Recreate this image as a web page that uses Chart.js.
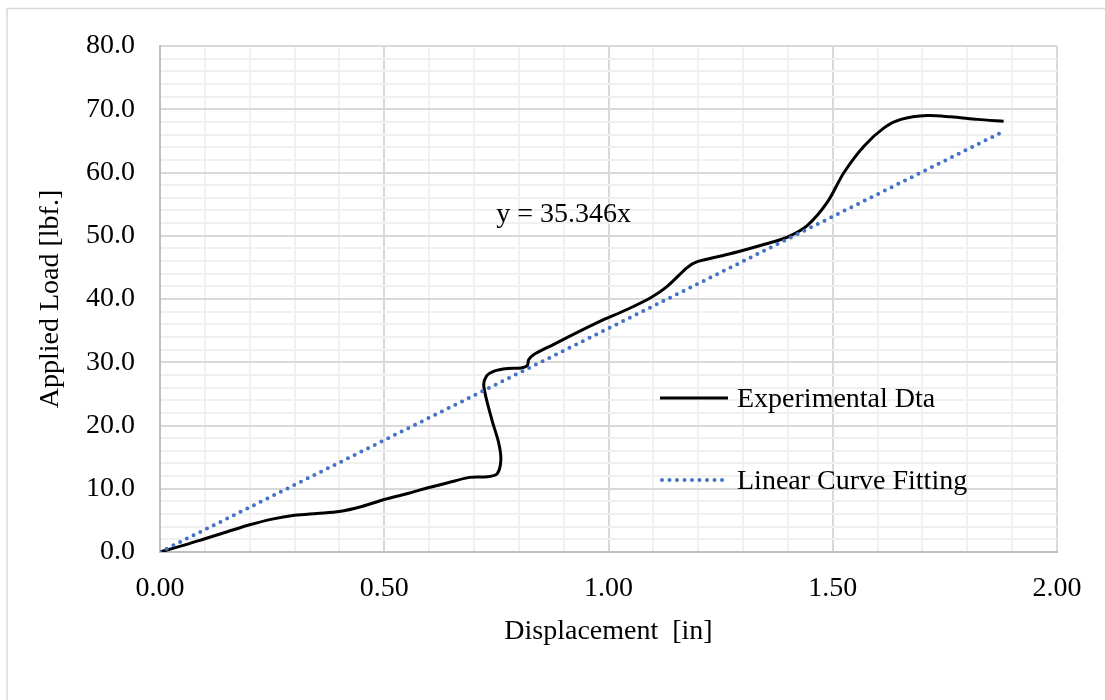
<!DOCTYPE html>
<html>
<head>
<meta charset="utf-8">
<script src="https://cdn.jsdelivr.net/npm/chart.js@4"></script>
<style>
    html, body { margin: 0; padding: 0; background: #fff; }
    #wrap { width: 1105px; height: 700px; }
</style>
</head>
<body>
<div id="wrap"><canvas id="chart" width="1105" height="700"></canvas></div>
<script>
// Experimental load / displacement curve
const expX = [0, 0.05, 0.10, 0.15, 0.20, 0.25, 0.30, 0.35, 0.40, 0.45, 0.50, 0.55, 0.60, 0.65, 0.69,
    0.73, 0.752, 0.76, 0.755, 0.74, 0.722, 0.728, 0.745, 0.775, 0.805, 0.819, 0.822, 0.833, 0.877,
    0.944, 0.982, 1.04, 1.094, 1.131, 1.176, 1.198, 1.25, 1.295, 1.35, 1.399, 1.443, 1.488, 1.525,
    1.570, 1.615, 1.652, 1.711, 1.763, 1.823, 1.881];
const expY = [0, 1.0, 2.1, 3.2, 4.3, 5.2, 5.8, 6.1, 6.4, 7.2, 8.3, 9.2, 10.2, 11.1, 11.8,
    11.9, 12.4, 14.6, 17.3, 20.9, 26.2, 27.8, 28.6, 29.0, 29.1, 29.5, 30.4, 31.2, 32.8,
    35.2, 36.5, 38.3, 40.2, 42.0, 45.0, 45.9, 46.8, 47.6, 48.7, 49.8, 51.6, 55.3, 60.0,
    64.2, 67.1, 68.4, 69.0, 68.8, 68.4, 68.1];

// Linear fit end points
const fitX = [0, 1.875];
const fitY = [0, 66.3];

const seriesNames = ['Experimental Dta', 'Linear Curve Fitting'];
const equationText = 'y = 35.346x';

const FONT = "'Liberation Serif', 'Times New Roman', serif";
const FS = 28;

function toPoints(xs, ys) {
    return xs.map((x, i) => ({ x: x, y: ys[i] }));
}

function isMajor(v, step) {
    const r = v / step;
    return Math.abs(r - Math.round(r)) < 1e-6;
}

// Frame, equation label and in-plot legend
const extras = {
    id: 'extras',
    beforeDraw(chart) {
        const ctx = chart.ctx;
        ctx.save();
        ctx.fillStyle = '#fff';
        ctx.fillRect(0, 0, chart.width, chart.height);
        ctx.strokeStyle = '#d9d9d9';
        ctx.lineWidth = 1.5;
        ctx.strokeRect(7, 8.5, chart.width + 10, chart.height + 10);
        ctx.restore();
    },
    afterDatasetsDraw(chart) {
        const ctx = chart.ctx;
        const a = chart.chartArea;
        const xs = chart.scales.x, ys = chart.scales.y;
        ctx.save();
        ctx.font = FS + 'px ' + FONT;
        ctx.fillStyle = '#000';
        ctx.textBaseline = 'middle';
        ctx.textAlign = 'center';
        ctx.fillText(equationText, xs.getPixelForValue(0.9), ys.getPixelForValue(53.4));

        // legend
        ctx.textAlign = 'left';
        const lx = a.left + 500, ly1 = a.top + 352, ly2 = a.top + 434;
        ctx.strokeStyle = '#000';
        ctx.lineWidth = 3;
        ctx.beginPath();
        ctx.moveTo(lx, ly1);
        ctx.lineTo(lx + 68, ly1);
        ctx.stroke();
        ctx.strokeStyle = '#4472c4';
        ctx.lineWidth = 4;
        ctx.lineCap = 'round';
        ctx.setLineDash([0, 7.5]);
        ctx.beginPath();
        ctx.moveTo(lx + 2, ly2);
        ctx.lineTo(lx + 68, ly2);
        ctx.stroke();
        ctx.setLineDash([]);
        ctx.fillText(seriesNames[0], lx + 77, ly1 + 2);
        ctx.fillText(seriesNames[1], lx + 77, ly2 + 2);
        ctx.restore();
    }
};

new Chart(document.getElementById('chart').getContext('2d'), {
    type: 'scatter',
    data: {
        datasets: [{
            label: seriesNames[0],
            data: toPoints(expX, expY),
            showLine: true,
            borderColor: '#000',
            borderWidth: 3,
            pointRadius: 0,
            tension: 0.3,
            order: 1
        }, {
            label: seriesNames[1],
            data: toPoints(fitX, fitY),
            showLine: true,
            borderColor: '#4472c4',
            borderWidth: 4,
            borderDash: [0, 7.5],
            borderCapStyle: 'round',
            pointRadius: 0,
            order: 0
        }]
    },
    options: {
        responsive: false,
        animation: false,
        layout: { padding: { left: 30, right: 48, top: 46, bottom: 48 } },
        plugins: {
            legend: { display: false },
            tooltip: { enabled: false }
        },
        scales: {
            x: {
                type: 'linear',
                min: 0,
                max: 2,
                afterFit(scale) { scale.height = 100; },
                ticks: {
                    stepSize: 0.1,
                    autoSkip: false,
                    maxRotation: 0,
                    padding: 20,
                    color: '#000',
                    font: { family: FONT, size: FS },
                    callback: v => isMajor(v, 0.5) ? v.toFixed(2) : ''
                },
                grid: {
                    drawTicks: false,
                    color: c => isMajor(c.tick.value, 0.5) ? '#d9d9d9' : '#f0f0f0',
                    lineWidth: 2
                },
                border: { color: '#bfbfbf', width: 2 },
                title: {
                    display: true,
                    text: 'Displacement  [in]',
                    color: '#000',
                    font: { family: FONT, size: FS },
                    padding: { top: 8 }
                }
            },
            y: {
                type: 'linear',
                min: 0,
                max: 80,
                afterFit(scale) { scale.width = 130; },
                ticks: {
                    stepSize: 2,
                    autoSkip: false,
                    padding: 25,
                    color: '#000',
                    font: { family: FONT, size: FS },
                    callback: v => isMajor(v, 10) ? v.toFixed(1) : ''
                },
                grid: {
                    drawTicks: false,
                    color: c => isMajor(c.tick.value, 10) ? '#d9d9d9' : '#f0f0f0',
                    lineWidth: 2
                },
                border: { color: '#bfbfbf', width: 2 },
                title: {
                    display: true,
                    text: 'Applied Load [lbf.]',
                    color: '#000',
                    font: { family: FONT, size: FS },
                    padding: { bottom: 0 }
                }
            }
        }
    },
    plugins: [extras]
});
</script>
</body>
</html>
